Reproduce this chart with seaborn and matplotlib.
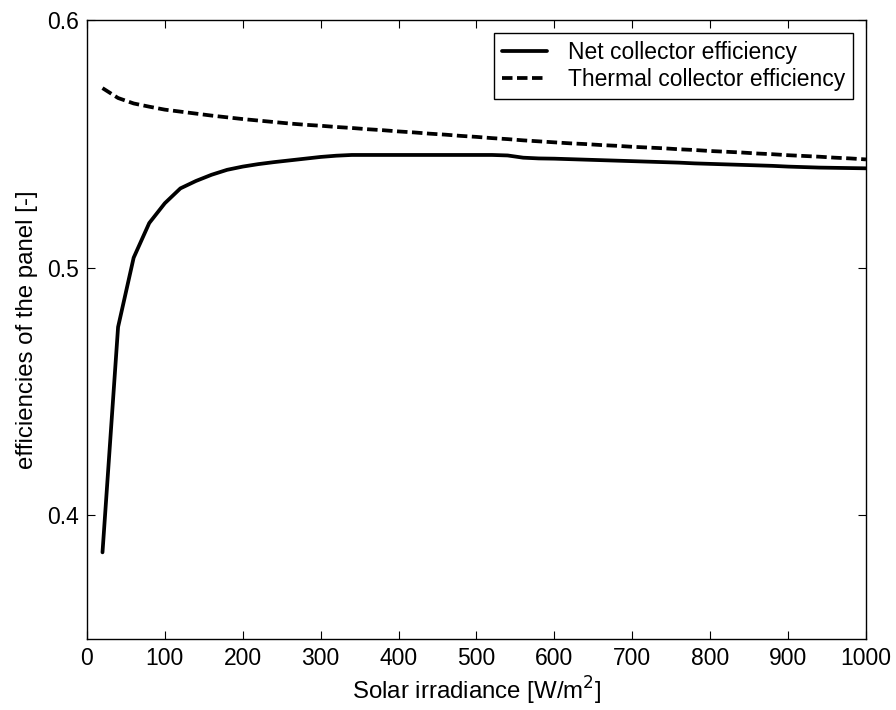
import matplotlib
matplotlib.use("Agg")
import matplotlib.pyplot as plt
import seaborn as sns
import pandas as pd

irradiance = [20, 40, 60, 80, 100, 120, 140, 160, 180, 200,
              220, 240, 260, 280, 300, 320, 340, 360, 380, 400,
              420, 440, 460, 480, 500, 520, 540, 560, 580, 600,
              620, 640, 660, 680, 700, 720, 740, 760, 780, 800,
              820, 840, 860, 880, 900, 920, 940, 960, 980, 1000]

net_eff = [0.385, 0.476, 0.504, 0.518, 0.526, 0.532, 0.535, 0.5375, 0.5395, 0.5408,
           0.5418, 0.5426, 0.5433, 0.5440, 0.5447, 0.5452, 0.5455, 0.5455, 0.5455, 0.5455,
           0.5455, 0.5455, 0.5455, 0.5455, 0.5455, 0.5455, 0.5453, 0.5444, 0.5441, 0.5440,
           0.5438, 0.5436, 0.5434, 0.5432, 0.5430, 0.5428, 0.5426, 0.5424, 0.5421, 0.5419,
           0.5417, 0.5415, 0.5413, 0.5411, 0.5408, 0.5406, 0.5404, 0.5403, 0.5402, 0.5401]

thermal_eff = [0.5725, 0.5685, 0.5663, 0.5650, 0.5638, 0.5630, 0.5622, 0.5614, 0.5607, 0.5600,
               0.5594, 0.5588, 0.5582, 0.5577, 0.5573, 0.5568, 0.5564, 0.5559, 0.5555, 0.5550,
               0.5546, 0.5541, 0.5537, 0.5532, 0.5528, 0.5523, 0.5519, 0.5514, 0.5510, 0.5506,
               0.5502, 0.5499, 0.5495, 0.5492, 0.5488, 0.5485, 0.5482, 0.5478, 0.5475, 0.5471,
               0.5468, 0.5465, 0.5461, 0.5458, 0.5454, 0.5451, 0.5448, 0.5444, 0.5441, 0.5437]

series_names = ["Net collector efficiency", "Thermal collector efficiency"]
x_ticks = [0, 100, 200, 300, 400, 500, 600, 700, 800, 900, 1000]
y_ticks = [0.4, 0.5, 0.6]

df = pd.DataFrame({
    "irradiance": irradiance * 2,
    "eff": net_eff + thermal_eff,
    "series": [series_names[0]] * len(irradiance) + [series_names[1]] * len(irradiance),
})

sns.set_style("ticks")
plt.rcParams["font.family"] = ["Liberation Sans", "DejaVu Sans"]
plt.rcParams["text.color"] = "black"
plt.rcParams["axes.labelcolor"] = "black"
plt.rcParams["xtick.color"] = "black"
plt.rcParams["ytick.color"] = "black"

FS = 16.5
LFS = 17.3
LW = 2.7

fig = plt.figure(figsize=(8.96, 7.1), dpi=100)
ax = fig.add_axes([0.097, 0.1, 0.8695, 0.8718])

sns.lineplot(data=df, x="irradiance", y="eff", hue="series", style="series",
             palette={series_names[0]: "black", series_names[1]: "black"},
             dashes={series_names[0]: "", series_names[1]: (2.8, 1.2)},
             linewidth=LW, ax=ax)

ax.set_xlim(0, 1000)
ax.set_ylim(0.35, 0.6)
ax.set_xticks(x_ticks)
ax.set_xticklabels([str(v) for v in x_ticks])
ax.set_yticks(y_ticks)
ax.set_yticklabels([f"{v:.1f}" for v in y_ticks])
ax.tick_params(axis="both", which="both", direction="in", top=True, right=True,
               length=6, width=0.8, labelsize=FS, pad=6, color="black", labelcolor="black")
for s in ax.spines.values():
    s.set_visible(True)
    s.set_linewidth(1.0)
    s.set_color("black")

ax.set_xlabel("Solar irradiance [W/m$^2$]", fontsize=LFS, labelpad=3, color="black")
ax.set_ylabel("efficiencies of the panel [-]", fontsize=LFS, labelpad=6, color="black")

leg = ax.legend(loc="upper right", fontsize=FS, frameon=True, fancybox=False,
                edgecolor="black", framealpha=1, borderaxespad=0.55,
                handlelength=2.0, borderpad=0.35, labelspacing=0.2, handletextpad=0.9)
leg.get_frame().set_linewidth(1.0)
for h in leg.get_lines():
    h.set_linewidth(LW)
for t in leg.get_texts():
    t.set_color("black")

fig.savefig("out.png", dpi=100)
